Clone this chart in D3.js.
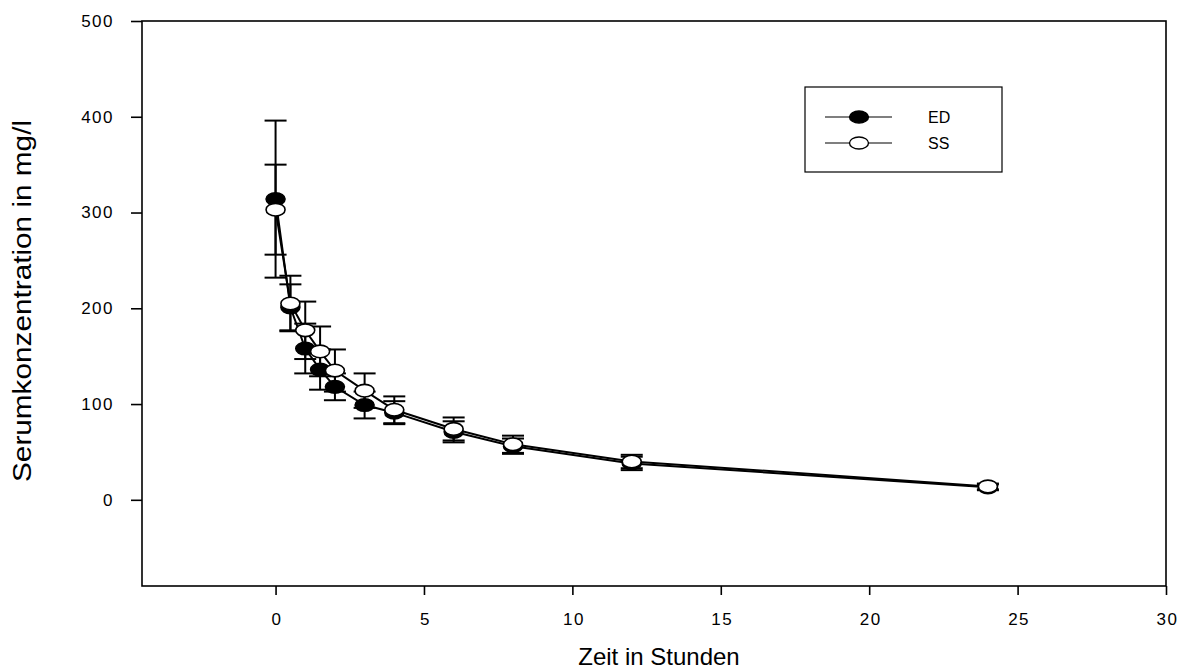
<!DOCTYPE html>
<html>
<head>
<meta charset="utf-8">
<script src="https://cdn.jsdelivr.net/npm/d3@7"></script>
<style>
  html, body { margin: 0; padding: 0; background: #fff; }
  svg { display: block; }
  text { font-family: "Liberation Sans", Arial, sans-serif; fill: #000; }
</style>
</head>
<body>
<svg id="chart" width="1184" height="672"></svg>
<script>
// ---- data ----
const times  = [0, 0.5, 1, 1.5, 2, 3, 4, 6, 8, 12, 24];
const edMean = [314, 201, 158, 136, 118, 99, 91, 71, 56, 38, 13];
const edSD   = [82, 24, 26, 21, 14, 14, 12, 11, 8, 7, 3];
const ssMean = [303, 205, 177, 155, 135, 114, 94, 74, 58, 40, 14];
const ssSD   = [47, 29, 30, 26, 22, 18, 14, 12, 9, 7, 3];
const xTicks = [0, 5, 10, 15, 20, 25, 30];
const yTicks = [0, 100, 200, 300, 400, 500];
const seriesNames = ["ED", "SS"];
const xTitle = "Zeit in Stunden";
const yTitle = "Serumkonzentration in mg/l";

const svg = d3.select("#chart");
const pLeft = 142, pRight = 1166, pTop = 21, pBottom = 586;

const x = d3.scaleLinear().domain([-4.5, 30]).range([pLeft, pRight]);
const y = d3.scaleLinear().domain([-90, 500]).range([pBottom, pTop]);

// frame
svg.append("rect")
  .attr("x", pLeft).attr("y", pTop)
  .attr("width", pRight - pLeft).attr("height", pBottom - pTop)
  .attr("fill", "none").attr("stroke", "#000").attr("stroke-width", 1.6);

// axes
const yAxis = d3.axisLeft(y).tickValues(yTicks).tickSize(11).tickPadding(17);
const gy = svg.append("g").attr("transform", `translate(${pLeft},0)`).call(yAxis);
gy.attr("font-size", null).attr("font-family", null);
gy.select(".domain").remove();
gy.selectAll(".tick line").attr("stroke", "#000").attr("stroke-width", 1.6);
gy.selectAll(".tick text")
  .attr("font-size", 17).attr("letter-spacing", 1.5)
  .attr("font-family", '"Liberation Sans", Arial, sans-serif');

const xAxis = d3.axisBottom(x).tickValues(xTicks).tickSize(9).tickPadding(18);
const gx = svg.append("g").attr("transform", `translate(0,${pBottom})`).call(xAxis);
gx.attr("font-size", null).attr("font-family", null);
gx.select(".domain").remove();
gx.selectAll(".tick line").attr("stroke", "#000").attr("stroke-width", 1.6);
gx.selectAll(".tick text")
  .attr("font-size", 17).attr("letter-spacing", 1.5)
  .attr("font-family", '"Liberation Sans", Arial, sans-serif')
  .attr("dx", "1px");

// titles
svg.append("text")
  .attr("x", 659).attr("y", 665)
  .attr("text-anchor", "middle")
  .attr("font-size", 24)
  .text(xTitle);

svg.append("text")
  .attr("transform", "translate(31,301) rotate(-90)")
  .attr("text-anchor", "middle")
  .attr("textLength", 362).attr("lengthAdjust", "spacingAndGlyphs")
  .attr("font-size", 25)
  .text(yTitle);

// data
const ed = times.map((t, i) => ({ t, m: edMean[i], sd: edSD[i] }));
const ss = times.map((t, i) => ({ t, m: ssMean[i], sd: ssSD[i] }));
const capW = 11;

function errorBars(data) {
  const g = svg.append("g").attr("stroke", "#000").attr("stroke-width", 2);
  data.forEach(d => {
    const cx = x(d.t), y1 = y(d.m + d.sd), y2 = y(d.m - d.sd);
    g.append("line").attr("x1", cx).attr("x2", cx).attr("y1", y1).attr("y2", y2);
    g.append("line").attr("x1", cx - capW).attr("x2", cx + capW).attr("y1", y1).attr("y2", y1);
    g.append("line").attr("x1", cx - capW).attr("x2", cx + capW).attr("y1", y2).attr("y2", y2);
  });
}
errorBars(ed);
errorBars(ss);

const line = d3.line().x(d => x(d.t)).y(d => y(d.m));
svg.append("path").datum(ed).attr("d", line)
  .attr("fill", "none").attr("stroke", "#000").attr("stroke-width", 2);
svg.append("path").datum(ss).attr("d", line)
  .attr("fill", "none").attr("stroke", "#000").attr("stroke-width", 2);

function markers(data, fill) {
  svg.append("g").selectAll("ellipse").data(data).join("ellipse")
    .attr("cx", d => x(d.t)).attr("cy", d => y(d.m))
    .attr("rx", 9.5).attr("ry", 6.3)
    .attr("fill", fill).attr("stroke", "#000").attr("stroke-width", 1.6);
}
markers(ed, "#000");
markers(ss, "#fff");

// legend
const lg = svg.append("g");
lg.append("rect").attr("x", 805).attr("y", 87).attr("width", 197).attr("height", 85)
  .attr("fill", "none").attr("stroke", "#000").attr("stroke-width", 1.2);
const legendRows = [
  { name: seriesNames[0], fill: "#000", yy: 117 },
  { name: seriesNames[1], fill: "#fff", yy: 143 }
];
legendRows.forEach(r => {
  lg.append("line").attr("x1", 825).attr("x2", 892).attr("y1", r.yy).attr("y2", r.yy)
    .attr("stroke", "#000").attr("stroke-width", 1.2);
  lg.append("ellipse").attr("cx", 859).attr("cy", r.yy).attr("rx", 9.5).attr("ry", 6)
    .attr("fill", r.fill).attr("stroke", "#000").attr("stroke-width", 1.4);
  lg.append("text").attr("x", 928).attr("y", r.yy + 5.5)
    .attr("font-size", 16).text(r.name);
});
</script>
</body>
</html>
